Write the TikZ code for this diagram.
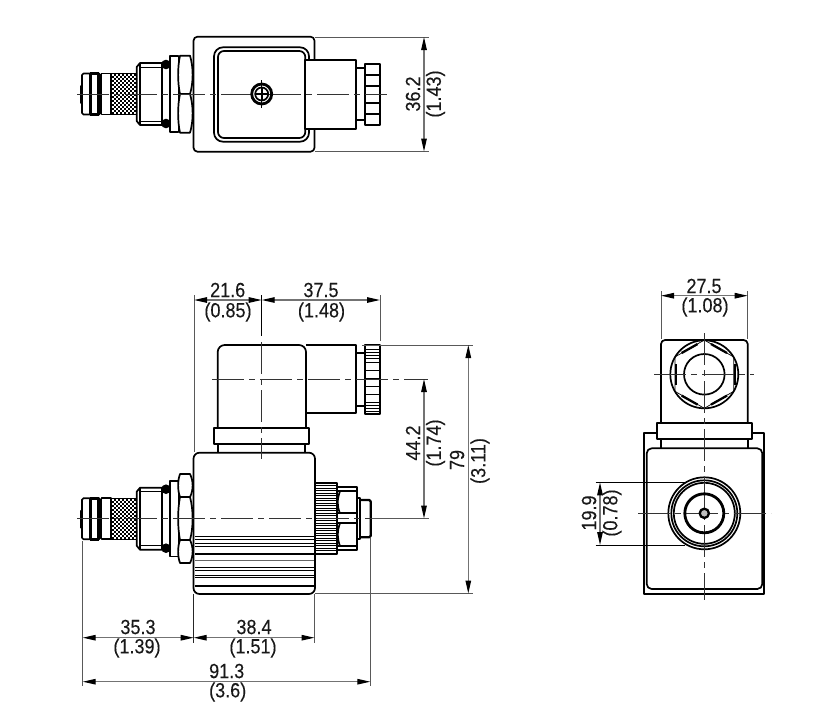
\documentclass[tikz,border=0pt]{standalone}
\usepackage{fontspec}
\setmainfont[FakeStretch=0.88,FakeBold=0.15]{Liberation Sans}
\usetikzlibrary{arrows.meta}
\tikzset{
  part/.style={draw=black,line width=1.7pt,line join=round},
  heavy/.style={draw=black,line width=2.3pt,line join=round},
  fine/.style={draw=black,line width=0.7pt},
  centre/.style={draw=black!80,line width=0.8pt,dash pattern=on 32pt off 5pt on 6pt off 5pt},
  extl/.style={draw=black!65,line width=0.9pt},
  dimline/.style={draw=black!55,line width=1.2pt,{Triangle[length=13pt,width=5.5pt,black]}-{Triangle[length=13pt,width=5.5pt,black]}},
  dimtext/.style={inner sep=0pt,font=\fontsize{20.5}{21}\selectfont,text=black!90},
  vdimtext/.style={dimtext,rotate=90}
}
\newcommand{\nutlobe}[2]{%
  \draw[part,fill=white] (180,#1) -- (190,#1) .. controls (193.5,{#1+(#2-#1)*0.3}) and (193.5,{#1+(#2-#1)*0.7}) .. (190,#2) -- (180,#2) .. controls (177.5,{#1+(#2-#1)*0.7}) and (177.5,{#1+(#2-#1)*0.3}) .. (180,#1) -- cycle;}
\newcommand{\cartridge}[1]{%
\begin{scope}[shift={(0,#1)}]
  % tip
  \draw[part,rounded corners=1.5pt] (100.5,-20.5) -- (82,-20.5) -- (82,20.5) -- (100.5,20.5) -- cycle;
  \fill[black,rounded corners=1pt] (80.2,-9) rectangle (82.5,10);
  \draw[heavy] (90.5,-20) -- (90.5,20);
  \draw[heavy] (98.5,-20) -- (98.5,20);
  \fill[black] (90,-22) rectangle (98.5,-19);
  \fill[black] (90,19) rectangle (98.5,22);
  % sleeve
  \draw[part] (101.5,-20.5) rectangle (111,20.5);
  % knurled part
  \fill[black] (111,-21) rectangle (137,21);
  \pgfmathsetmacro{\kny}{round(#1)-#1}
  \foreach \i in {0,...,5}{\foreach \j in {0,...,9}{%
    \fill[white] ({112+\i*4},{\kny-20+\j*4}) rectangle +(2,2);
    \fill[white] ({114+\i*4},{\kny-18+\j*4}) rectangle +(2,2);}}
  % shoulder
  \draw[part] (140,-31) -- (162,-31) -- (162,31) -- (140,31) -- (136.7,27) -- (136.7,-27) -- cycle;
  \draw[part] (140,-31) -- (140,31);
  \draw[fine] (140,-27) -- (162,-27);
  \draw[fine] (140,27) -- (162,27);
  % o-ring zone
  \draw[part] (162,-30) rectangle (170,30);
  \fill[black] (166,{-29.5}) circle (4.8pt);
  \fill[black] (166,{29.5}) circle (4.8pt);
  % washer
  \draw[part] (170,-37.7) rectangle (178.5,37.7);
\end{scope}}
\begin{document}
\begin{tikzpicture}[x=1pt,y=-1pt]
\useasboundingbox (0,0) rectangle (818,710);
\fill[white] (0,0) rectangle (818,710);

% ===== TOP VIEW =====
\cartridge{94}
\nutlobe{55.7}{94}
\nutlobe{94}{132.7}
\draw[part,rounded corners=4pt] (193.5,36.7) rectangle (314.5,151.7);
\draw[part,rounded corners=9pt] (214,47.3) rectangle (309,141.7);
\draw[part,rounded corners=6pt] (218,51) rectangle (305.3,138);
\draw[part,fill=white] (305.3,60) rectangle (356,128.7);
\draw[part] (356,68.3) -- (365.3,68.3);
\draw[part] (356,120) -- (365.3,120);
\draw[part] (365.3,64) rectangle (380,124.7);
\foreach \y in {75,86,102.7,114}{\draw[part] (365.3,\y) -- (380,\y);}
\draw[centre] (77,94) -- (387,94);
\draw[draw=black,line width=2.8pt] (261.7,94) circle (10pt);
\draw[part] (261.7,94) circle (6.5pt);
\draw[draw=black,line width=2.2pt] (254.5,94) -- (269,94);
\draw[draw=black,line width=2.2pt] (261.7,87) -- (261.7,101);
\draw[fine] (261.7,80) -- (261.7,108);
% 36.2
\draw[extl] (315,37) -- (429,37);
\draw[extl] (315,151.5) -- (429,151.5);
\draw[dimline] (424,37) -- (424,151.5);
\node[vdimtext] (t362) at (413,94) {36.2};
\node[vdimtext] (t143) at (435.5,94) {(1.43)};

% ===== FRONT VIEW =====
\cartridge{518.7}
\nutlobe{474}{497}
\nutlobe{497}{540}
\nutlobe{540}{563}
\draw[part,rounded corners=6pt] (193.5,452.7) rectangle (315,594);
% stripes on the body
\foreach \y in {536,539.3,543.3,546.7,567.3,570.7,575,577.3}{\draw[fine] (195,\y) -- (314,\y);}
\draw[part] (195,554) -- (314,554);
\draw[draw=black!60,line width=1.2pt] (195,560.7) -- (314,560.7);
\draw[part] (195,586) -- (314,586);
% rear knurl
\fill[white] (315,482.7) rectangle (337.3,554);
\foreach \y in {485.5,488,...,552}{\draw[fine] (315,\y) -- (337.3,\y);}
\draw[heavy] (315,482.7) rectangle (337.3,554);
% hex nut
\draw[heavy] (337.3,486.7) rectangle (356.7,550);
\draw[part] (338,491) -- (356,491);
\draw[part] (338,546) -- (356,546);
\draw[part] (338,513.3) -- (356,513.3);
\draw[part] (338,523.3) -- (356,523.3);
\draw[part] (340,491) .. controls (337,500) and (337,506) .. (340,513.3);
\draw[part] (340,523.3) .. controls (337,531) and (337,538) .. (340,546);
% end
\draw[heavy] (356.7,498.3) rectangle (359.7,539.3);
\draw[heavy,rounded corners=1.5pt] (359.7,500) -- (370.7,500) -- (370.7,537.3) -- (359.7,537.3);
\draw[centre] (77,518.7) -- (428,518.7);
% connector head
\draw[part,rounded corners=7pt] (217.7,427.7) -- (217.7,345) -- (306,345) -- (306,427.7);
\draw[part] (306,345) -- (356,345) -- (356,413.3) -- (306,413.3);
\draw[part] (356,353.3) -- (365,353.3);
\draw[part] (356,405.7) -- (365,405.7);
\draw[part] (365,345) rectangle (380,413.7);
\foreach \y in {349,352,355,358,362,370,378,386,394,402,405,408,411}{\draw[fine] (365,\y) -- (380,\y);}
\draw[part] (214.3,427.7) rectangle (309.3,444.3);
\draw[part] (218,444.3) -- (218,452.7);
\draw[part] (305,444.3) -- (305,452.7);
\draw[centre] (261.7,342) -- (261.7,459);
\draw[draw=black,line width=0.9pt] (261.7,295) -- (261.7,336);
\draw[centre] (212,379) -- (428,379);
% 21.6 and 37.5
\draw[extl] (194,295) -- (194,452);
\draw[extl] (380,295) -- (380,341);
\draw[dimline] (194,300) -- (261.7,300);
\draw[dimline] (261.7,300) -- (380,300);
\node[dimtext] (t216) at (227.7,290) {21.6};
\node[dimtext] (t085) at (228,312) {(0.85)};
\node[dimtext] (t375) at (321,290) {37.5};
\node[dimtext] (t148) at (321.5,312) {(1.48)};
% 79 and 44.2
\draw[extl] (362,345) -- (473,345);
\draw[extl] (315,593.5) -- (473,593.5);
\draw[extl] (372,518.5) -- (429,518.5);
\draw[dimline] (468.3,345) -- (468.3,593.5);
\draw[dimline] (424,379) -- (424,518.5);
\node[vdimtext] (t442) at (413,443) {44.2};
\node[vdimtext] (t174) at (435.5,443) {(1.74)};
\node[vdimtext] (t79) at (457,460) {79};
\node[vdimtext] (t311) at (480,461) {(3.11)};
% bottom dimensions
\draw[extl] (82.7,541) -- (82.7,686);
\draw[draw=black!85,line width=0.9pt] (193.7,594) -- (193.7,643);
\draw[extl] (314.5,594) -- (314.5,643);
\draw[extl] (370.3,538) -- (370.3,686);
\draw[dimline] (82.7,637.7) -- (193.7,637.7);
\draw[dimline] (193.7,637.7) -- (314.5,637.7);
\draw[dimline] (82.7,681.7) -- (370.3,681.7);
\node[dimtext] (t353) at (138,627) {35.3};
\node[dimtext] (t139) at (137,648) {(1.39)};
\node[dimtext] (t384) at (254,627) {38.4};
\node[dimtext] (t151) at (253,648) {(1.51)};
\node[dimtext] (t913) at (226.7,671) {91.3};
\node[dimtext] (t36) at (227.7,692) {(3.6)};

% ===== SIDE VIEW =====
\draw[part,rounded corners=4pt] (661,423.3) -- (661,340) -- (747.7,340) -- (747.7,423.3);
\draw[part] (704.3,374.3) circle (20.3pt);
\draw[part] (704.3,374.3) circle (34pt);
\draw[fine] (704.3,340) -- (733.7,357) -- (733.7,391.3) -- (704.3,408.3) -- (674.9,391.3) -- (674.9,357) -- cycle;
\draw[heavy] (711,344) -- (727,353);
\draw[heavy] (697.6,344) -- (681.6,353);
\draw[heavy] (711,404.6) -- (727,395.6);
\draw[heavy] (697.6,404.6) -- (681.6,395.6);
\draw[draw=black,line width=2.6pt] (735,364) -- (735,385);
\draw[draw=black,line width=2.6pt] (676,364) -- (676,385);
\draw[part] (656.7,423.3) rectangle (751.7,439);
\draw[part] (661,439) -- (661,448);
\draw[part] (747.7,439) -- (747.7,448);
\draw[part] (656.7,433.3) -- (644,433.3) -- (644,594) -- (764.3,594) -- (764.3,433.3) -- (751.7,433.3);
\draw[part,rounded corners=5pt] (646.7,448.3) rectangle (762.3,589);
\fill[white] (704.3,513.3) circle (35pt);
\draw[part] (704.3,513.3) circle (36pt);
\draw[part] (704.3,513.3) circle (33pt);
\draw[part] (704.3,513.3) circle (30.5pt);
\draw[centre] (704.3,333) -- (704.3,600);
\draw[centre] (638,513.3) -- (771,513.3);
\draw[centre] (654,374.3) -- (754,374.3);
\draw[heavy,line width=2.8pt] (704.3,513.3) circle (19.5pt);
\draw[heavy,fill=black!25] (704.3,513.3) circle (4.6pt);
% 27.5
\draw[extl] (661,291) -- (661,339);
\draw[extl] (747.7,291) -- (747.7,339);
\draw[dimline] (661,295.7) -- (747.7,295.7);
\node[dimtext] (t275) at (704,286) {27.5};
\node[dimtext] (t108) at (705,307) {(1.08)};
% 19.9
\draw[draw=black,line width=0.8pt] (595.7,482.3) -- (685,482.3);
\draw[draw=black,line width=0.8pt] (595.7,545) -- (685,545);
\draw[dimline] (600,482.3) -- (600,545);
\node[vdimtext] (t199) at (589,513) {19.9};
\node[vdimtext] (t078) at (612,513) {(0.78)};
\end{tikzpicture}
\end{document}
